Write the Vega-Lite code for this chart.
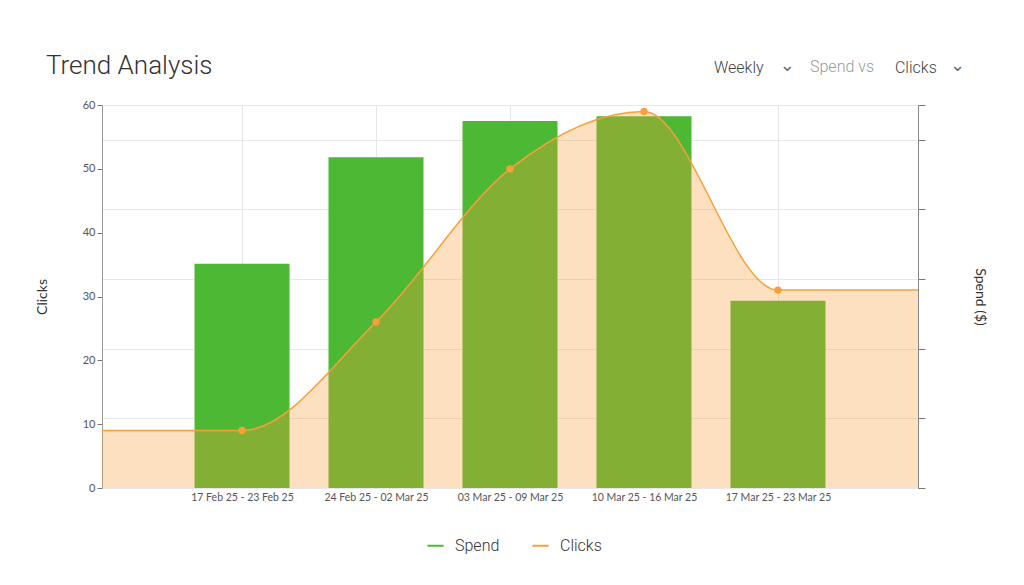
{
  "$schema": "https://vega.github.io/schema/vega-lite/v6.json",
  "width": 816,
  "height": 383,
  "autosize": "none",
  "padding": {"left": 102, "top": 105, "right": 106, "bottom": 97},
  "background": "#ffffff",
  "title": {
    "text": "Trend Analysis",
    "anchor": "start",
    "frame": "group",
    "dx": -56,
    "dy": 50,
    "offset": 28,
    "font": "Roboto",
    "fontWeight": 300,
    "fontSize": 26,
    "color": "#333333"
  },
  "config": {
    "font": "Lato",
    "view": {"stroke": null},
    "axis": {
      "labelFont": "Lato",
      "labelColor": "#555555",
      "titleFont": "Lato",
      "titleFontWeight": "normal",
      "titleColor": "#333333",
      "titleFontSize": 14,
      "domainColor": "#999999",
      "tickColor": "#777777",
      "gridColor": "#e8e8e8"
    }
  },
  "data": {
    "values": [
      {"week": null, "idx": -1.045, "spend": null, "clicks": 9},
      {"week": "17 Feb 25 - 23 Feb 25", "idx": 0, "spend": 32.2, "clicks": 9},
      {"week": "24 Feb 25 - 02 Mar 25", "idx": 1, "spend": 47.5, "clicks": 26},
      {"week": "03 Mar 25 - 09 Mar 25", "idx": 2, "spend": 52.7, "clicks": 50},
      {"week": "10 Mar 25 - 16 Mar 25", "idx": 3, "spend": 53.4, "clicks": 59},
      {"week": "17 Mar 25 - 23 Mar 25", "idx": 4, "spend": 26.9, "clicks": 31},
      {"week": null, "idx": 5.045, "spend": null, "clicks": 31}
    ]
  },
  "encoding": {
    "x": {
      "field": "idx",
      "type": "quantitative",
      "scale": {"domain": [-1.045, 5.045], "nice": false, "zero": false, "padding": 0},
      "axis": {
        "title": null,
        "values": [0, 1, 2, 3, 4],
        "labelExpr": "['17 Feb 25 - 23 Feb 25', '24 Feb 25 - 02 Mar 25', '03 Mar 25 - 09 Mar 25', '10 Mar 25 - 16 Mar 25', '17 Mar 25 - 23 Mar 25'][datum.value]",
        "labelFontSize": 10.5,
        "labelPadding": 4,
        "ticks": false,
        "domain": false,
        "grid": true,
        "gridColor": "#e6e6e6"
      }
    }
  },
  "layer": [
    {
      "mark": {"type": "bar", "size": 95},
      "encoding": {
        "y": {
          "field": "spend",
          "type": "quantitative",
          "scale": {"domain": [0, 55], "nice": false},
          "axis": {
            "orient": "right",
            "title": "Spend ($)",
            "titlePadding": 47,
            "values": [0, 10, 20, 30, 40, 50, 55],
            "labels": false,
            "tickSize": 7,
            "grid": true,
            "domainColor": "#888888"
          }
        },
        "color": {
          "datum": "Spend",
          "scale": {"domain": ["Spend", "Clicks"], "range": ["#4cb833", "#f99f39"]},
          "legend": {
            "title": null,
            "orient": "none",
            "legendX": 324,
            "legendY": 431,
            "direction": "horizontal",
            "symbolType": "stroke",
            "symbolSize": 260,
            "symbolStrokeWidth": 2,
            "labelFont": "Roboto",
            "labelFontWeight": 300,
            "labelFontSize": 16,
            "labelColor": "#333333",
            "columnPadding": 28,
            "labelOffset": 10,
            "encoding": {
              "symbols": {
                "update": {
                  "stroke": {"scale": "color", "field": "value"},
                  "strokeWidth": {"value": 2.5}
                }
              }
            }
          }
        }
      }
    },
    {
      "encoding": {
        "y": {
          "field": "clicks",
          "type": "quantitative",
          "scale": {"domain": [0, 60], "nice": false},
          "axis": {
            "orient": "left",
            "title": "Clicks",
            "titlePadding": 33,
            "values": [0, 10, 20, 30, 40, 50, 60],
            "labelFontSize": 11,
            "tickSize": 5,
            "grid": false,
            "domainColor": "#999999"
          }
        }
      },
      "layer": [
        {
          "mark": {"type": "area", "interpolate": "monotone", "fillOpacity": 0.32},
          "encoding": {"color": {"datum": "Clicks"}}
        },
        {
          "mark": {"type": "line", "interpolate": "monotone", "strokeWidth": 1.5},
          "encoding": {"color": {"datum": "Clicks"}}
        },
        {
          "transform": [{"filter": "isValid(datum.week)"}],
          "mark": {"type": "point", "filled": true, "opacity": 1, "size": 55},
          "encoding": {"color": {"datum": "Clicks"}}
        },
        {
          "transform": [{"filter": "datum.idx == 0"}],
          "mark": {"type": "text", "text": "Weekly", "align": "left", "baseline": "alphabetic", "font": "Roboto", "fontWeight": 300, "fontSize": 16, "color": "#444444"},
          "encoding": {"x": {"datum": 3.522}, "y": {"datum": 65.0}}
        },
        {
          "transform": [{"filter": "datum.idx == 0"}],
          "mark": {"type": "text", "text": "⌄", "align": "center", "baseline": "alphabetic", "font": "DejaVu Sans", "fontWeight": "normal", "fontSize": 18, "color": "#666666"},
          "encoding": {"x": {"datum": 4.07}, "y": {"datum": 65.4}}
        },
        {
          "transform": [{"filter": "datum.idx == 0"}],
          "mark": {"type": "text", "text": "Spend vs", "align": "left", "baseline": "alphabetic", "font": "Roboto", "fontWeight": 300, "fontSize": 16, "color": "#999999"},
          "encoding": {"x": {"datum": 4.239}, "y": {"datum": 65.2}}
        },
        {
          "transform": [{"filter": "datum.idx == 0"}],
          "mark": {"type": "text", "text": "Clicks", "align": "left", "baseline": "alphabetic", "font": "Roboto", "fontWeight": 300, "fontSize": 16, "color": "#444444"},
          "encoding": {"x": {"datum": 4.873}, "y": {"datum": 65.0}}
        },
        {
          "transform": [{"filter": "datum.idx == 0"}],
          "mark": {"type": "text", "text": "⌄", "align": "center", "baseline": "alphabetic", "font": "DejaVu Sans", "fontWeight": "normal", "fontSize": 18, "color": "#666666"},
          "encoding": {"x": {"datum": 5.34}, "y": {"datum": 65.4}}
        }
      ]
    }
  ],
  "resolve": {"scale": {"y": "independent"}}
}
